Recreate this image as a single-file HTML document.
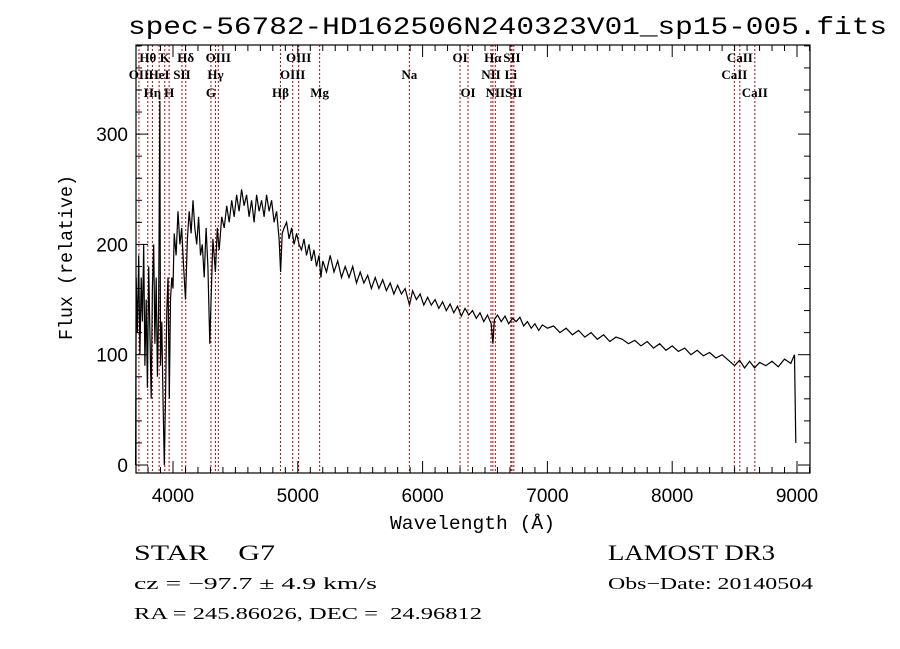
<!DOCTYPE html>
<html><head><meta charset="utf-8">
<style>
html,body{margin:0;padding:0;background:#fff;}
svg{display:block;}
text{font-family:"Liberation Serif",serif;fill:#000;white-space:pre;}
.t{font-family:"Liberation Sans",sans-serif;}
.m{font-family:"Liberation Mono",monospace;}
</style></head>
<body>
<svg id="chart" width="900" height="649" viewBox="0 0 900 649" xml:space="preserve">
<text x="128" y="34" font-size="25" class="m" textLength="759" lengthAdjust="spacingAndGlyphs">spec-56782-HD162506N240323V01_sp15-005.fits</text>
<g id="lines"></g>
<g id="labels"></g>
<path id="spec" fill="none" stroke="#000" stroke-width="1.2"/>
<rect x="136" y="45" width="674" height="428" fill="none" stroke="#000" stroke-width="1.2"/>
<g id="axes"></g>
<text x="390" y="529" font-size="19" class="m" textLength="165" lengthAdjust="spacingAndGlyphs">Wavelength (Å)</text>
<text transform="translate(72,340) rotate(-90)" font-size="19" class="m" textLength="165" lengthAdjust="spacingAndGlyphs">Flux (relative)</text>
<text x="134" y="560" font-size="22" textLength="141" lengthAdjust="spacingAndGlyphs">STAR    G7</text>
<text x="608" y="560" font-size="22" textLength="167" lengthAdjust="spacingAndGlyphs">LAMOST DR3</text>
<text x="134" y="589" font-size="17" textLength="243" lengthAdjust="spacingAndGlyphs">cz = −97.7 ± 4.9 km/s</text>
<text x="608" y="589" font-size="17" textLength="205" lengthAdjust="spacingAndGlyphs">Obs−Date: 20140504</text>
<text x="134" y="619" font-size="17" textLength="348" lengthAdjust="spacingAndGlyphs">RA = 245.86026, DEC =  24.96812</text>
</svg>
<script>
const wavelengths=[3700,3705,3715,3725,3735,3745,3755,3765,3775,3785,3795,3805,3815,3825,3835,3845,3855,3865,3875,3885,3895,3900,3910,3920,3930,3940,3950,3960,3970,3980,3990,4000,4010,4025,4040,4055,4070,4085,4100,4115,4130,4145,4160,4175,4190,4205,4220,4235,4250,4265,4280,4295,4305,4320,4340,4355,4370,4390,4410,4430,4450,4470,4490,4510,4530,4550,4570,4590,4610,4630,4650,4670,4690,4710,4730,4750,4770,4790,4810,4830,4850,4862,4875,4890,4910,4930,4950,4970,4990,5010,5030,5050,5070,5090,5110,5130,5150,5170,5185,5200,5230,5260,5290,5320,5350,5380,5410,5440,5470,5500,5530,5560,5590,5620,5650,5680,5710,5740,5770,5800,5830,5860,5895,5920,5950,5980,6010,6040,6070,6100,6130,6160,6190,6220,6250,6280,6310,6340,6370,6400,6430,6460,6490,6520,6550,6563,6575,6600,6630,6660,6690,6720,6750,6780,6810,6840,6870,6900,6930,6960,7000,7050,7100,7150,7200,7250,7300,7350,7400,7450,7500,7550,7600,7650,7700,7750,7800,7850,7900,7950,8000,8050,8100,8150,8200,8250,8300,8350,8400,8450,8500,8540,8580,8620,8660,8700,8750,8800,8850,8900,8950,8980,8990];
const fluxes=[0,170,120,190,100,170,130,200,90,150,70,180,120,60,160,200,110,170,80,140,330,90,130,60,0,60,140,170,60,150,170,160,210,190,230,200,215,180,150,205,230,210,240,215,200,225,190,200,170,215,180,110,150,205,175,215,195,225,215,235,220,240,225,245,230,250,235,245,225,240,220,245,230,240,225,245,230,240,220,230,205,175,210,215,220,205,215,200,210,200,195,205,190,200,185,195,180,190,170,185,175,190,175,185,170,180,170,180,165,175,165,172,160,170,160,168,158,165,155,163,155,160,145,158,150,155,145,152,145,150,142,148,140,146,138,144,135,142,136,140,133,138,130,136,128,110,132,136,130,135,128,133,130,134,126,130,124,128,122,127,124,126,120,124,118,122,116,120,114,118,112,116,114,110,113,108,112,106,110,104,108,103,106,100,104,99,102,97,100,95,90,95,88,94,88,93,90,94,89,96,92,100,20];
const lineWaves=[3727,3798,3835,3889,3934,3969,4072,4102,4304,4340,4363,4861,4959,5007,5175,5894,6300,6364,6548,6563,6583,6707,6716,6731,8498,8542,8662];
const labelNames=["OII","Hθ","Hη","HeI","K","H","SII","Hδ","G","Hγ","OIII","Hβ","OIII","OIII","Mg","Na","OI","OI","NII","Hα","NII","Li","SII","SII","CaII","CaII","CaII"];
const labelRows=[1,0,2,1,0,2,1,0,2,1,0,2,1,0,2,1,0,2,1,0,2,1,0,2,1,0,2];
const xTicks=[4000,5000,6000,7000,8000,9000];
const yTicks=[0,100,200,300];

const NS="http://www.w3.org/2000/svg";
const X0=136,X1=810,Y0=45,Y1=473;
function xs(w){return 173+(w-4000)*0.1248;}
function ys(v){return 465-v*1.103;}
function mk(tag,attrs,parent){const e=document.createElementNS(NS,tag);for(const k in attrs)e.setAttribute(k,attrs[k]);parent.appendChild(e);return e;}

let d="";
for(let i=0;i<wavelengths.length;i++){d+=(i?"L":"M")+xs(wavelengths[i]).toFixed(1)+","+ys(fluxes[i]).toFixed(1);}
document.getElementById("spec").setAttribute("d",d);

const gl=document.getElementById("lines"),gt=document.getElementById("labels");
const rowY=[62,79,97];
for(let i=0;i<lineWaves.length;i++){
  const x=xs(lineWaves[i]);
  const ln=mk("line",{x1:x,x2:x,y1:Y0,y2:Y1,stroke:"#c00000","stroke-width":1,"stroke-dasharray":"2,2"},gl);
  
  
  const t=mk("text",{x:x,y:rowY[labelRows[i]],"text-anchor":"middle","font-size":13,"font-weight":"bold"},gt);
  t.textContent=labelNames[i];
  
  
}

const ga=document.getElementById("axes");
for(let w=3800;w<=9100;w+=100){
  const x=xs(w),major=w%1000===0,len=major?12:6;
  mk("line",{x1:x,x2:x,y1:Y1,y2:Y1-len,stroke:"#000"},ga);
  mk("line",{x1:x,x2:x,y1:Y0,y2:Y0+len,stroke:"#000"},ga);
}
for(const w of xTicks){
  const t=mk("text",{x:xs(w),y:502,"text-anchor":"middle","font-size":19,class:"t"},ga);
  t.textContent=w;
  
  
}
for(let v=0;v<=380;v+=20){
  const y=ys(v),major=v%100===0,len=major?12:6;
  mk("line",{x1:X0,x2:X0+len,y1:y,y2:y,stroke:"#000"},ga);
  mk("line",{x1:X1,x2:X1-len,y1:y,y2:y,stroke:"#000"},ga);
}
for(const v of yTicks){
  const t=mk("text",{x:128,y:ys(v)+7,"text-anchor":"end","font-size":19,class:"t"},ga);
  t.textContent=v;
  
  
}
</script>
</body></html>
